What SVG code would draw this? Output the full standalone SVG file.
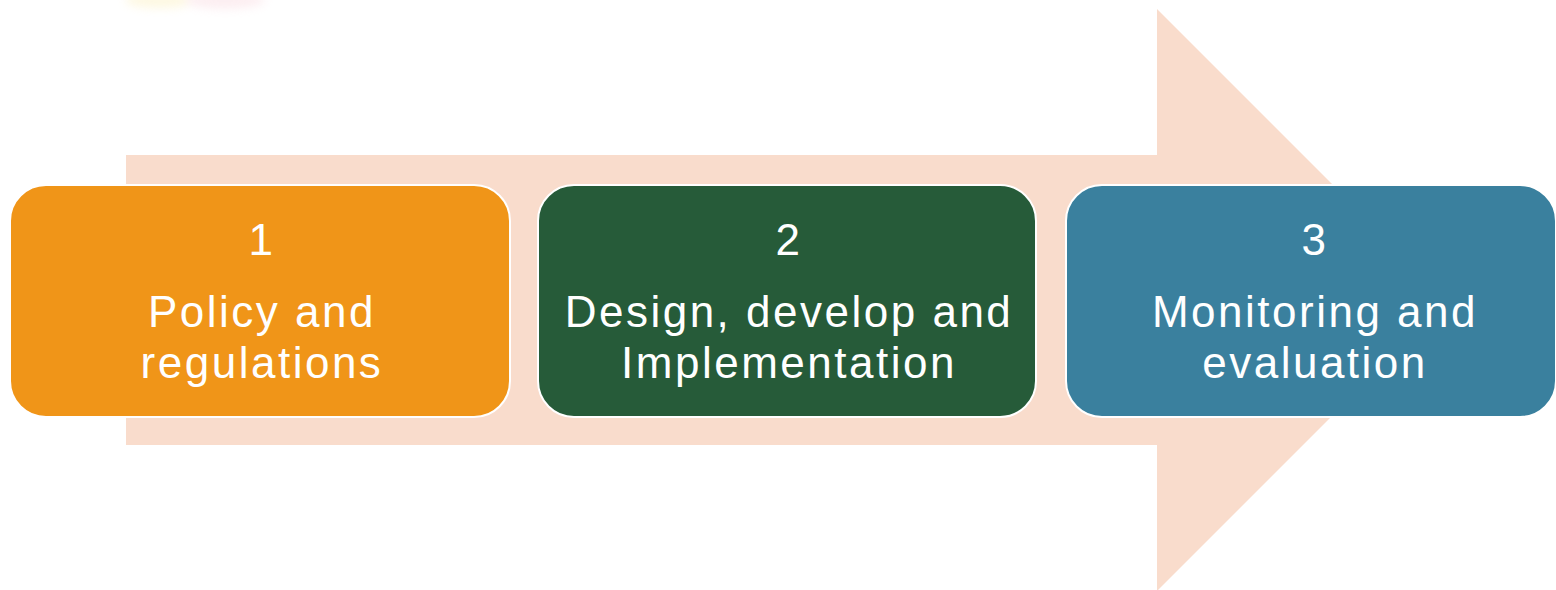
<svg xmlns="http://www.w3.org/2000/svg" width="1556" height="590" viewBox="0 0 1556 590">
  <style>
    .box { stroke: #ffffff; stroke-width: 2; }
    .t { font-family: "Liberation Sans", Arial, sans-serif; fill: #ffffff; text-anchor: middle; font-size: 44px; letter-spacing: 2.5px; }
  </style>
  <defs>
    <filter id="blur" x="-50%" y="-50%" width="200%" height="200%">
      <feGaussianBlur stdDeviation="5"/>
    </filter>
  </defs>
  <rect width="1556" height="590" fill="#ffffff"/>
  <g id="smudge" filter="url(#blur)" opacity="0.3">
    <ellipse cx="160" cy="0" rx="35" ry="8" fill="#fbe9a0"/>
    <ellipse cx="225" cy="0" rx="40" ry="9" fill="#f7c9d2"/>
  </g>
  <g id="background-arrow">
    <polygon points="126,155 1157,155 1157,9 1448,300 1157,591 1157,445 126,445" fill="#f9dccc"/>
  </g>
  <g id="connectors"></g>
  <g id="node1">
    <rect class="box" x="10" y="185" width="500" height="232" rx="36" fill="#f09518"/>
    <text class="t"><tspan x="262" y="255">1</tspan><tspan x="262" y="327">Policy and</tspan><tspan x="262" y="378">regulations</tspan></text>
  </g>
  <g id="node2">
    <rect class="box" x="538" y="185" width="498" height="232" rx="36" fill="#265b39"/>
    <text class="t"><tspan x="789" y="255">2</tspan><tspan x="789" y="327">Design, develop and</tspan><tspan x="789" y="378">Implementation</tspan></text>
  </g>
  <g id="node3">
    <rect class="box" x="1066" y="185" width="490" height="232" rx="36" fill="#3a809e"/>
    <text class="t"><tspan x="1315" y="255">3</tspan><tspan x="1315" y="327">Monitoring and</tspan><tspan x="1315" y="378">evaluation</tspan></text>
  </g>
</svg>
